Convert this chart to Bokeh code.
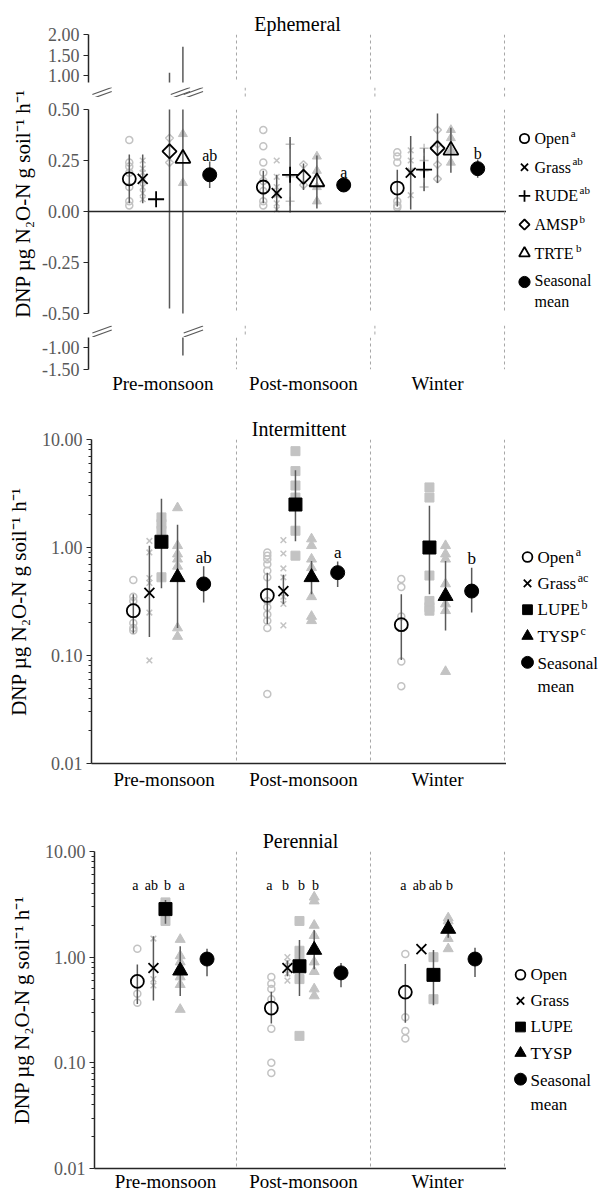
import math
from bokeh.plotting import figure
from bokeh.layouts import column, row
from bokeh.models import Range1d, FixedTicker, PrintfTickFormatter, Span
from bokeh.core.properties import value
from bokeh.embed import file_html
from bokeh.resources import INLINE

# ---------------- data ----------------
seasons = ["Pre-monsoon", "Post-monsoon", "Winter"]

# Ephemeral (linear, broken axis) : mean and +/- error per season
eph_species = ["Open", "Grass", "RUDE", "AMSP", "TRTE"]
eph_sup = ["a", "ab", "ab", "b", "b"]
eph_mean = {
    "Open": [0.16, 0.12, 0.115],
    "Grass": [0.16, 0.09, 0.19],
    "RUDE": [0.06, 0.18, 0.205],
    "AMSP": [0.295, 0.17, 0.31],
    "TRTE": [0.26, 0.145, 0.30],
}
eph_err = {
    "Open": [0.12, 0.08, 0.09],
    "Grass": [0.12, 0.09, 0.18],
    "RUDE": [0.0, 0.185, 0.105],
    "AMSP": [0.77, 0.065, 0.17],
    "TRTE": [1.44, 0.13, 0.11],
}
eph_reps = {
    "Open": [[0.35, 0.24, 0.22, 0.19, 0.12, 0.05, 0.03],
             [0.40, 0.32, 0.24, 0.19, 0.15, 0.10, 0.05, 0.03],
             [0.29, 0.27, 0.24, 0.05, 0.03, 0.02]],
    "Grass": [[0.25, 0.21, 0.19, 0.15, 0.12, 0.09, 0.06],
              [0.25, 0.17, 0.12, 0.08, 0.04, 0.01],
              [0.30, 0.25, 0.20, 0.08]],
    "RUDE": [[], [0.33, 0.17, 0.05], [0.31, 0.25, 0.20, 0.12]],
    "AMSP": [[0.36, 0.24], [0.23, 0.13], [0.40, 0.33, 0.23, 0.16]],
    "TRTE": [[0.38, 0.14], [0.27, 0.20, 0.12, 0.05], [0.40, 0.36, 0.30, 0.24]],
}
eph_season_mean = [0.18, 0.13, 0.21]
eph_season_err = [0.065, 0.03, 0.045]
eph_season_letter = ["ab", "a", "b"]

# Intermittent (log axis): mean, lower and upper error bar ends
int_species = ["Open", "Grass", "LUPE", "TYSP"]
int_sup = ["a", "ac", "b", "c"]
int_mean = {
    "Open": [0.26, 0.36, 0.193],
    "Grass": [0.38, 0.395, None],
    "LUPE": [1.13, 2.50, 1.0],
    "TYSP": [0.53, 0.53, 0.355],
}
int_low = {
    "Open": [0.16, 0.196, 0.091],
    "Grass": [0.148, 0.30, None],
    "LUPE": [0.42, 1.14, 0.37],
    "TYSP": [0.18, 0.37, 0.17],
}
int_high = {
    "Open": [0.37, 0.585, 0.37],
    "Grass": [1.04, 0.56, None],
    "LUPE": [2.82, 5.18, 2.44],
    "TYSP": [1.62, 0.75, 0.75],
}
int_reps = {
    "Open": [[0.50, 0.35, 0.32, 0.20, 0.18, 0.17],
             [0.90, 0.84, 0.78, 0.70, 0.61, 0.53, 0.32, 0.28, 0.24, 0.21, 0.18, 0.044],
             [0.51, 0.43, 0.23, 0.088, 0.052]],
    "Grass": [[1.15, 0.90, 0.52, 0.47, 0.25, 0.09],
              [1.17, 0.88, 0.64, 0.53, 0.35, 0.30, 0.19],
              []],
    "LUPE": [[1.9, 1.65, 1.43, 0.53],
             [7.8, 5.1, 3.75, 2.9, 1.43, 0.84],
             [3.6, 2.9, 0.55, 0.32, 0.28, 0.26]],
    "TYSP": [[2.33, 1.04, 0.87, 0.78, 0.67, 0.18, 0.15],
             [1.2, 1.04, 0.78, 0.65, 0.35, 0.23, 0.21],
             [1.04, 0.87, 0.78, 0.46, 0.37, 0.30, 0.26, 0.071]],
}
int_season_mean = [0.46, 0.585, 0.395]
int_season_low = [0.31, 0.43, 0.25]
int_season_high = [0.67, 0.74, 0.65]
int_season_letter = ["ab", "a", "b"]

# Perennial (log axis)
per_species = ["Open", "Grass", "LUPE", "TYSP"]
per_mean = {
    "Open": [0.59, 0.33, 0.467],
    "Grass": [0.79, 0.79, 1.19],
    "LUPE": [2.85, 0.82, 0.68],
    "TYSP": [0.745, 1.17, 1.85],
}
per_low = {
    "Open": [0.36, 0.236, 0.24],
    "Grass": [0.39, 0.66, None],
    "LUPE": [2.07, 0.43, 0.35],
    "TYSP": [0.43, 0.77, 1.53],
}
per_high = {
    "Open": [0.85, 0.47, 0.86],
    "Grass": [1.58, 0.93, None],
    "LUPE": [3.48, 1.45, 1.17],
    "TYSP": [1.27, 1.8, 2.3],
}
per_reps = {
    "Open": [[1.2, 0.45, 0.37],
             [0.65, 0.56, 0.50, 0.40, 0.21, 0.10, 0.08],
             [1.07, 0.27, 0.20, 0.17]],
    "Grass": [[1.5, 0.62, 0.54], [1.0, 0.9, 0.8, 0.7, 0.6], []],
    "LUPE": [[3.3, 3.1, 2.2], [2.2, 1.15, 0.95, 0.62, 0.18], [1.0, 0.40]],
    "TYSP": [[1.47, 1.03, 0.9, 0.8, 0.65, 0.55, 0.32],
             [3.7, 3.4, 2.0, 1.6, 0.9, 0.73, 0.50, 0.43],
             [2.35, 2.2, 1.5, 1.2]],
}
per_letters = [["a", "ab", "b", "a"], ["a", "b", "b", "b"], ["a", "ab", "ab", "b"]]
per_season_mean = [0.96, 0.71, 0.96]
per_season_low = [0.66, 0.52, 0.65]
per_season_high = [1.2, 0.88, 1.23]

# ---------------- style / layout ----------------
FONT = "'Liberation Serif', serif"
INK = "#000000"
GRAY = "#c3c3c3"
BAR = "#595959"
AX = "#262626"
TICK_TXT = "#595959"
SEP = "#a6a6a6"
YLABEL = "DNP \u00b5g N\u2082O-N g soil\u207b\u00b9 h\u207b\u00b9"

UNIT = 134.0          # px per season band
ORIGIN = 102.0        # page x of season band 0 start
X_END = 3.015
MAIN_W = 506
LEG_W = 95
LAB_W = 38

EPH_OFF = [0.2, 0.3, 0.4, 0.5, 0.6]
EPH_MOFF = 0.8
INT_OFF = [0.23, 0.35, 0.44, 0.56]
INT_MOFF = 0.755
PER_OFF = [0.26, 0.38, 0.47, 0.58]
PER_MOFF = 0.78
PER_LETTER_OFF = [0.245, 0.365, 0.485, 0.59]
PER_LETTER_Y = 4.8

MAIN = {
    "Open": dict(marker="circle", size=13, fill_color=None, line_color=INK, line_width=1.8),
    "Grass": dict(marker="x", size=14, line_color=INK, line_width=1.8),
    "RUDE": dict(marker="cross", size=16, line_color=INK, line_width=1.8),
    "AMSP": dict(marker="square", angle=math.pi / 4, size=10, fill_color=None, line_color=INK, line_width=1.8),
    "TRTE": dict(marker="triangle", size=15, fill_color=None, line_color=INK, line_width=1.8),
    "LUPE": dict(marker="square", size=13, fill_color=INK, line_color=INK, line_width=1),
    "TYSP": dict(marker="triangle", size=15, fill_color=INK, line_color=INK, line_width=1),
}
MEAN_STYLE = dict(marker="circle", size=14, fill_color=INK, line_color=INK, line_width=1)
REP = {
    "Open": dict(marker="circle", size=7, fill_color=None, line_color=GRAY, line_width=1.5),
    "Grass": dict(marker="x", size=8, line_color=GRAY, line_width=1.5),
    "RUDE": dict(marker="cross", size=9, line_color=GRAY, line_width=1.5),
    "AMSP": dict(marker="square", angle=math.pi / 4, size=5.5, fill_color=None, line_color=GRAY, line_width=1.5),
    "TRTE": dict(marker="triangle", size=9, fill_color=GRAY, line_color=GRAY, line_width=1),
    "LUPE": dict(marker="square", size=9, fill_color=GRAY, line_color=GRAY, line_width=1),
    "TYSP": dict(marker="triangle", size=10, fill_color=GRAY, line_color=GRAY, line_width=1),
}

TW = {"O": 722, "p": 500, "e": 444, "n": 500, "G": 722, "r": 333, "a": 444, "s": 389,
      "R": 667, "U": 722, "D": 722, "E": 611, "A": 722, "M": 889, "S": 556, "P": 556,
      "T": 611, "L": 611, "Y": 722}


def tw(s, fs):
    return sum(TW.get(c, 500) for c in s) / 1000.0 * fs


def x_start(axis_px):
    return (axis_px - ORIGIN) / UNIT


def base_fig(height, x_range, y_range, left, top, bottom, y_axis_type="linear", width=MAIN_W):
    p = figure(width=width, height=height, x_range=x_range, y_range=y_range,
               y_axis_type=y_axis_type, toolbar_location=None, output_backend="svg",
               min_border_left=left, min_border_right=0, min_border_top=top,
               min_border_bottom=bottom)
    p.outline_line_color = None
    p.grid.visible = False
    p.background_fill_color = "white"
    p.border_fill_color = "white"
    p.xaxis.visible = False
    return p


def style_y(p, ticks, minor=None):
    ax = p.yaxis[0]
    ax.ticker = FixedTicker(ticks=ticks, minor_ticks=minor or [])
    ax.formatter = PrintfTickFormatter(format="%.2f")
    ax.axis_line_color = AX
    ax.axis_line_width = 1.5
    ax.major_tick_line_color = AX
    ax.major_tick_line_width = 1.2
    ax.major_tick_out = 5
    ax.major_tick_in = 0
    ax.minor_tick_line_color = AX if minor else None
    ax.minor_tick_out = 3
    ax.minor_tick_in = 0
    ax.major_label_text_font = FONT
    ax.major_label_text_font_size = "18px"
    ax.major_label_text_color = TICK_TXT
    ax.major_label_standoff = 4


def style_x(p, start, show_line, standoff=3):
    ax = p.xaxis[0]
    ax.visible = True
    c0 = round((start + 1) / 2, 2)
    ax.ticker = FixedTicker(ticks=[c0, 1.5, 2.5])
    ax.major_label_overrides = {c0: seasons[0], 1.5: seasons[1], 2.5: seasons[2]}
    ax.axis_line_color = AX if show_line else None
    ax.axis_line_width = 1.5
    ax.major_tick_line_color = None
    ax.major_tick_out = 0
    ax.major_tick_in = 0
    ax.minor_tick_line_color = None
    ax.minor_tick_out = 0
    ax.major_label_text_font = FONT
    ax.major_label_text_font_size = "19px"
    ax.major_label_text_color = INK
    ax.major_label_standoff = standoff


def y_title(p):
    ax = p.yaxis[0]
    ax.axis_label = YLABEL
    ax.axis_label_text_font = FONT
    ax.axis_label_text_font_size = "21px"
    ax.axis_label_text_font_style = "normal"
    ax.axis_label_text_color = INK
    ax.axis_label_standoff = 8


def set_title(p, text):
    p.title.text = text
    p.title.align = "center"
    p.title.text_font = FONT
    p.title.text_font_size = "20px"
    p.title.text_font_style = "normal"
    p.title.text_color = INK
    p.title.standoff = 0


def separators(p):
    for k in (1, 2, 3):
        p.add_layout(Span(location=k, dimension="height", line_color=SEP,
                          line_dash="3 3", line_width=1))


def draw_series(p, species, mean, low, high, reps, smean, slow, shigh, offs, moff):
    for sp, off in zip(species, offs):
        xs, ys = [], []
        for s in range(3):
            for v in reps[sp][s]:
                xs.append(s + off)
                ys.append(v)
        if xs:
            p.scatter(xs, ys, **REP[sp])
    bx, blo, bhi = [], [], []
    for sp, off in zip(species, offs):
        for s in range(3):
            if mean[sp][s] is None or low[sp][s] is None or low[sp][s] == high[sp][s]:
                continue
            bx.append(s + off)
            blo.append(low[sp][s])
            bhi.append(high[sp][s])
    for s in range(3):
        bx.append(s + moff)
        blo.append(slow[s])
        bhi.append(shigh[s])
    p.segment(x0=bx, y0=blo, x1=bx, y1=bhi, line_color=BAR, line_width=1.5)
    for sp, off in zip(species, offs):
        xs = [s + off for s in range(3) if mean[sp][s] is not None]
        ys = [mean[sp][s] for s in range(3) if mean[sp][s] is not None]
        p.scatter(xs, ys, **MAIN[sp])
    p.scatter([s + moff for s in range(3)], smean, **MEAN_STYLE)


def text_kw(fs, color=INK):
    return dict(text_font=value(FONT), text_font_size=f"{fs}px", text_color=color)


def break_fig(height, axis_px, marks_x, ymid, width):
    ext = 14
    xs0 = x_start(axis_px)
    p = base_fig(height, Range1d(xs0 - ext / UNIT, X_END), Range1d(0, height),
                 left=axis_px - LAB_W - ext, top=0, bottom=0, width=width)
    p.yaxis.visible = False
    separators(p)
    xs = [xs0] + marks_x
    dx = 10.0 / UNIT
    n = len(xs)
    for o in (-2.0, 2.0):
        p.segment(x0=[x - dx for x in xs], y0=[ymid - 3.5 + o] * n,
                  x1=[x + dx for x in xs], y1=[ymid + 3.5 + o] * n,
                  line_color=BAR, line_width=1.2)
    return p


def small(style, f):
    d = dict(style)
    d["size"] = style["size"] * f
    return d


def legend_fig(height, items, x_mark, x_text, y0, step, fs):
    p = figure(width=LEG_W, height=height, x_range=Range1d(0, LEG_W),
               y_range=Range1d(height, 0), toolbar_location=None,
               output_backend="svg", min_border=0)
    p.axis.visible = False
    p.grid.visible = False
    p.outline_line_color = None
    p.border_fill_color = "white"
    for k, (style, label, sup) in enumerate(items):
        y = y0 + k * step
        p.scatter([x_mark], [y], **style)
        if label == "Seasonal mean":
            p.text([x_text], [y - 0.62 * fs], text=["Seasonal\nmean"], text_align="left",
                   text_baseline="top", text_line_height=1.25, **text_kw(fs))
        else:
            p.text([x_text], [y], text=[label], text_align="left",
                   text_baseline="middle", **text_kw(fs))
        if sup:
            p.text([x_text + tw(label, fs) + 1.5], [y - 0.36 * fs], text=[sup],
                   text_align="left", text_baseline="middle",
                   **text_kw(round(fs * 0.68)))
    return p


# ---------------- Ephemeral panel (broken axis) ----------------
eph_low = {sp: [m - e for m, e in zip(eph_mean[sp], eph_err[sp])] for sp in eph_species}
eph_high = {sp: [m + e for m, e in zip(eph_mean[sp], eph_err[sp])] for sp in eph_species}
eph_slow = [m - e for m, e in zip(eph_season_mean, eph_season_err)]
eph_shigh = [m + e for m, e in zip(eph_season_mean, eph_season_err)]

AX_TOP = 88
TOP_W = MAIN_W - LAB_W
xr_top = Range1d(x_start(AX_TOP), X_END)
LEFT_TOP = AX_TOP - LAB_W

H_UP, H_B1, H_MID, H_B2, H_LOW = 86, 11, 228, 12, 62
upper = base_fig(H_UP, xr_top, Range1d(0.83, 2.0), LEFT_TOP, 34, 4, width=TOP_W)
set_title(upper, "Ephemeral")
style_y(upper, [1.0, 1.5, 2.0])

middle = base_fig(H_MID, xr_top, Range1d(-0.5, 0.5), LEFT_TOP, 12, 12, width=TOP_W)
style_y(middle, [-0.5, -0.25, 0.0, 0.25, 0.5])
middle.add_layout(Span(location=0, dimension="width", line_color=AX, line_width=1.5))

lower = base_fig(H_LOW, xr_top, Range1d(-1.5, -0.773), LEFT_TOP, 0, 30, width=TOP_W)
style_y(lower, [-1.5, -1.0])
style_x(lower, x_start(AX_TOP), show_line=False)

for p in (upper, middle, lower):
    separators(p)
    draw_series(p, eph_species, eph_mean, eph_low, eph_high, eph_reps,
                eph_season_mean, eph_slow, eph_shigh, EPH_OFF, EPH_MOFF)

middle.text([s + EPH_MOFF for s in range(3)], eph_shigh, text=eph_season_letter,
            text_align="center", text_baseline="alphabetic", y_offset=-6, **text_kw(16))

up_cross = [s + off for sp, off in zip(eph_species, EPH_OFF) for s in range(3)
            if eph_high[sp][s] > 0.5]
dn_cross = [s + off for sp, off in zip(eph_species, EPH_OFF) for s in range(3)
            if eph_low[sp][s] < -0.5]
brk1 = break_fig(H_B1, AX_TOP, up_cross, 5.5, TOP_W)
brk2 = break_fig(H_B2, AX_TOP, dn_cross, 6, TOP_W)

top_col = column(upper, brk1, middle, brk2, lower)
TOP_H = H_UP + H_B1 + H_MID + H_B2 + H_LOW

lab = figure(width=LAB_W, height=TOP_H, x_range=Range1d(0, LAB_W), y_range=Range1d(0, TOP_H),
             toolbar_location=None, output_backend="svg", min_border=0)
lab.axis.visible = False
lab.grid.visible = False
lab.outline_line_color = None
lab.text([22], [TOP_H - 203], text=[YLABEL], angle=math.pi / 2, text_align="center",
         text_baseline="middle", **text_kw(21))

leg_top_items = [(small(MAIN[sp], 0.72), sp, sup) for sp, sup in zip(eph_species, eph_sup)]
leg_top_items.append((small(MEAN_STYLE, 0.8), "Seasonal mean", ""))
leg_top = legend_fig(TOP_H, leg_top_items, 18, 28, 138, 28.7, 16)

# ---------------- Intermittent panel ----------------
AX_MID = 91
mid = base_fig(394, Range1d(x_start(AX_MID), X_END), Range1d(0.01, 10), AX_MID, 40, 30,
               y_axis_type="log")
set_title(mid, "Intermittent")
minor_log = [k * 10.0 ** e for e in (-2, -1, 0) for k in range(2, 10)]
style_y(mid, [0.01, 0.1, 1.0, 10.0], minor_log)
y_title(mid)
style_x(mid, x_start(AX_MID), show_line=True, standoff=5)
separators(mid)
draw_series(mid, int_species, int_mean, int_low, int_high, int_reps,
            int_season_mean, int_season_low, int_season_high, INT_OFF, INT_MOFF)
mid.text([s + INT_MOFF for s in range(3)], int_season_high, text=int_season_letter,
         text_align="center", text_baseline="alphabetic", y_offset=-9, **text_kw(17))

leg_mid_items = [(small(MAIN[sp], 0.75), sp, sup) for sp, sup in zip(int_species, int_sup)]
leg_mid_items.append((small(MEAN_STYLE, 0.85), "Seasonal mean", ""))
leg_mid = legend_fig(394, leg_mid_items, 21, 31, 143, 32, 17)

# ---------------- Perennial panel ----------------
AX_BOT = 94
bot = base_fig(401, Range1d(x_start(AX_BOT), X_END), Range1d(0.01, 10), AX_BOT, 58, 24,
               y_axis_type="log")
set_title(bot, "Perennial")
style_y(bot, [0.01, 0.1, 1.0, 10.0], minor_log)
y_title(bot)
style_x(bot, x_start(AX_BOT), show_line=True, standoff=2)
separators(bot)
draw_series(bot, per_species, per_mean, per_low, per_high, per_reps,
            per_season_mean, per_season_low, per_season_high, PER_OFF, PER_MOFF)
lx, ly, lt = [], [], []
for s in range(3):
    for i, off in enumerate(PER_LETTER_OFF):
        lx.append(s + off)
        ly.append(PER_LETTER_Y)
        lt.append(per_letters[s][i])
bot.text(lx, ly, text=lt, text_align="center", text_baseline="middle", **text_kw(14))

leg_bot_items = [(small(MAIN[sp], 0.75), sp, "") for sp in per_species]
leg_bot_items.append((small(MEAN_STYLE, 0.85), "Seasonal mean", ""))
leg_bot = legend_fig(401, leg_bot_items, 14, 24, 156, 33, 17)

layout = column(row(lab, top_col, leg_top), row(mid, leg_mid), row(bot, leg_bot))

open("out.html", "w").write(file_html(layout, INLINE))
